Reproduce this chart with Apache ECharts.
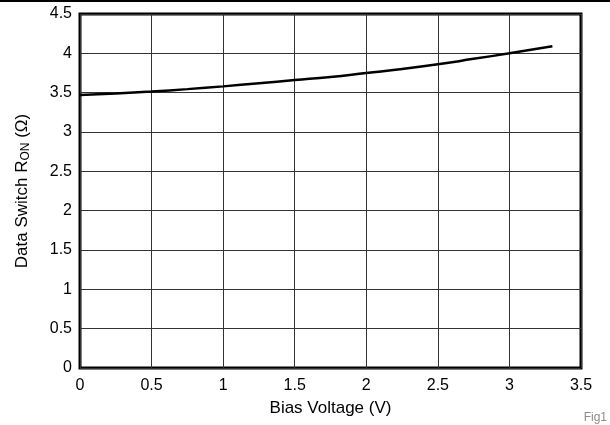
<!DOCTYPE html>
<html>
<head>
<meta charset="utf-8">
<script src="https://cdn.jsdelivr.net/npm/echarts@6/dist/echarts.min.js"></script>
<style>
  html, body { margin: 0; padding: 0; background: #fff; }
  #chart { width: 610px; height: 425px; }
</style>
</head>
<body>
<div id="chart"></div>
<script>
// values
const biasVoltage = [0, 0.25, 0.5, 0.75, 1, 1.25, 1.5, 1.75, 2, 2.25, 2.5, 2.75, 3, 3.3];
const rOn = [3.47, 3.49, 3.515, 3.545, 3.58, 3.62, 3.66, 3.70, 3.75, 3.80, 3.86, 3.93, 4.0, 4.09];

const chart = echarts.init(document.getElementById('chart'));
const font = 'Liberation Sans, Arial, sans-serif';

chart.setOption({
  animation: false,
  graphic: [
    { type: 'rect', shape: { x: 0, y: 0, width: 610, height: 2 }, style: { fill: '#000' } },
    { type: 'text', right: 3, bottom: 1, style: { text: 'Fig1', fill: '#8c8c8c', font: '12px ' + font } }
  ],
  grid: {
    left: 80, right: 29, top: 14, bottom: 57,
    show: true, borderColor: '#000', borderWidth: 3, backgroundColor: 'transparent'
  },
  xAxis: {
    type: 'value', min: 0, max: 3.5, interval: 0.5,
    name: 'Bias Voltage (V)', nameLocation: 'middle', nameGap: 32,
    nameTextStyle: { color: '#000', fontSize: 17, fontFamily: font },
    axisLine: { show: false }, axisTick: { show: false },
    axisLabel: { color: '#000', fontSize: 16, fontFamily: font, margin: 10 },
    splitLine: { lineStyle: { color: '#333', width: 1 } }
  },
  yAxis: {
    type: 'value', min: 0, max: 4.5, interval: 0.5,
    name: 'Data Switch R{sub|ON} (Ω)', nameLocation: 'middle', nameGap: 48,
    nameTextStyle: {
      color: '#000', fontSize: 17, fontFamily: font,
      rich: { sub: { fontSize: 12, fontFamily: font, color: '#000', verticalAlign: 'bottom', padding: [7, 0, 0, 0] } }
    },
    axisLine: { show: false }, axisTick: { show: false },
    axisLabel: { color: '#000', fontSize: 16, fontFamily: font, margin: 8 },
    splitLine: { lineStyle: { color: '#333', width: 1 } }
  },
  series: [{
    type: 'line', smooth: true, showSymbol: false,
    data: biasVoltage.map((v, i) => [v, rOn[i]]),
    lineStyle: { color: '#000', width: 2.5 }
  }]
});
</script>
</body>
</html>
